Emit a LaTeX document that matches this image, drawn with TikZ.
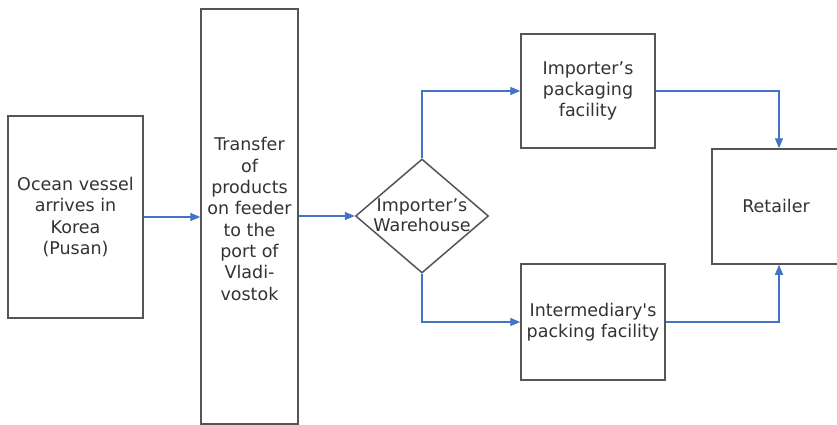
\documentclass[tikz,border=0pt]{standalone}
\usepackage{fontspec}
\setmainfont{DejaVu Sans}
\usetikzlibrary{arrows.meta,shapes.geometric}
\definecolor{boxgray}{HTML}{555555}
\definecolor{txtgray}{HTML}{333333}
\definecolor{flowblue}{HTML}{4472C4}
\begin{document}
\begin{tikzpicture}[x=1pt,y=-1pt,
  box/.style={draw=boxgray,line width=1.5pt,rectangle,inner sep=0pt,align=center,
    text=txtgray,font=\fontsize{17.5}{21.3}\selectfont},
  flow/.style={draw=flowblue,line width=1.3pt,-{Triangle[length=10pt,width=8pt]}},
  lbl/.style={align=center,text=txtgray,font=\fontsize{17.5}{20.5}\selectfont,inner sep=0pt}]
\clip (0,0) rectangle (837,425);
\fill[white] (0,0) rectangle (837,425);
\node[box,minimum width=135pt,minimum height=202pt] (b1) at (75.5,217) {Ocean vessel\\arrives in\\Korea\\(Pusan)};
\node[box,minimum width=97pt,minimum height=415pt] (b2) at (249.5,216.5) {};
\node[lbl,font=\fontsize{17.5}{21.3}\selectfont] (b2t) at (249.5,219) {Transfer\\of\\products\\on feeder\\to the\\port of\\Vladi-\\vostok};
\node[draw=boxgray,line width=1.5pt,diamond,minimum width=133pt,minimum height=114pt,inner sep=0pt] (wh) at (422,216) {};
\node[lbl] (wht) at (422,215) {Importer’s\\Warehouse};
\node[box,minimum width=134pt,minimum height=114pt] (b3) at (588,91) {Importer’s\\packaging\\facility};
\node[box,minimum width=144pt,minimum height=116pt] (b4) at (593,322) {Intermediary\textquotesingle s\\packing facility};
\node[box,minimum width=134pt,minimum height=115pt] (ret) at (779,206.5) {};
\node[lbl] (rett) at (776,206) {Retailer};
\draw[flow] (b1.east) -- (b1.east -| b2.west);
\draw[flow] (wh.west -| b2.east) -- (wh.west);
\draw[flow] (wh.north) |- (b3.west);
\draw[flow] (wh.south) |- (b4.west);
\draw[flow] (b3.east) -| (ret.north);
\draw[flow] (b4.east) -| (ret.south);
\end{tikzpicture}
\end{document}
